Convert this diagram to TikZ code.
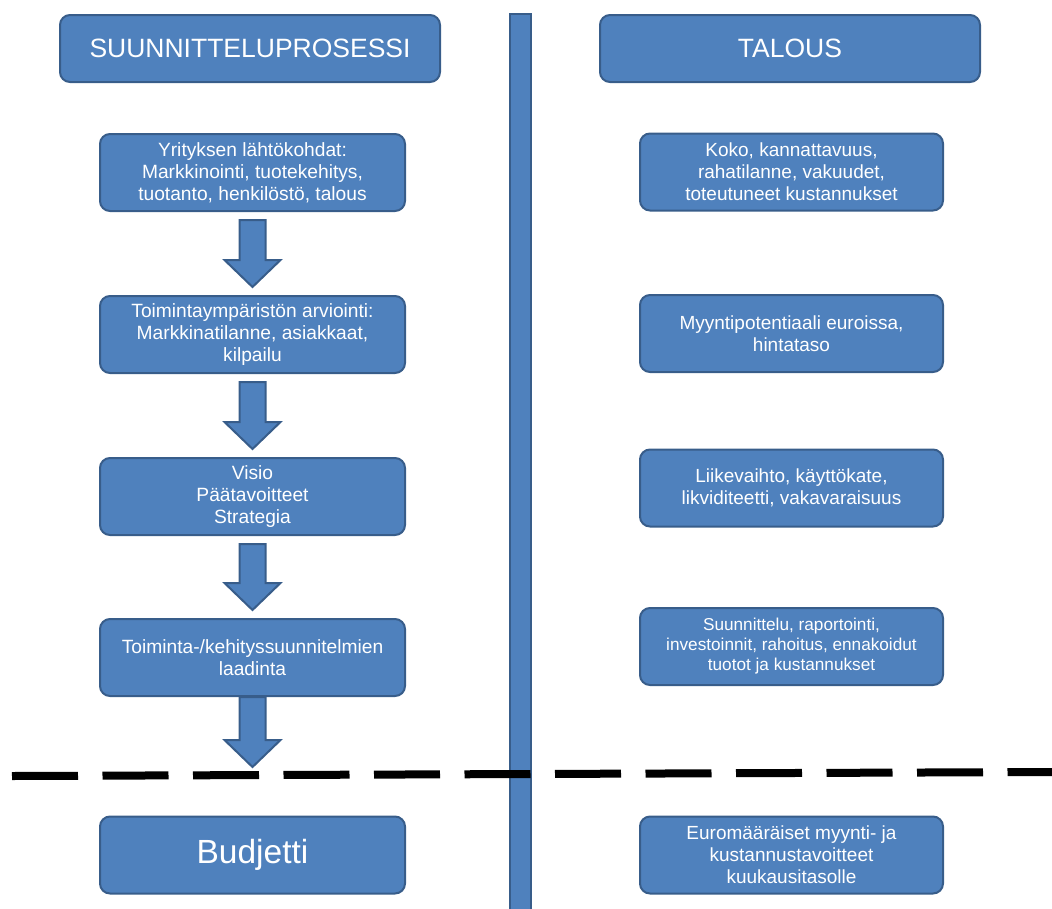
\documentclass[tikz,border=0pt]{standalone}
\usepackage{fontspec}
\setmainfont{Liberation Sans}
\usepackage{xcolor}
\usetikzlibrary{calc}

\definecolor{boxfill}{RGB}{79,129,189}
\definecolor{boxline}{RGB}{56,93,138}

% block arrow pointing down, from #2 to #3 (#1 = gap at the top)
\newcommand{\blockarrow}[3][8]{%
  \draw[arrowbox] let \p1=($(#2)+(0,#1)$), \p2=($(#3)-(0,8)$) in
    (\x1-13pt,\y1) -- (\x1+13pt,\y1) -- (\x1+13pt,\y2+27pt) -- (\x1+28pt,\y2+27pt)
    -- (\x1,\y2) -- (\x1-28pt,\y2+27pt) -- (\x1-13pt,\y2+27pt) -- cycle;}

\begin{document}
\begin{tikzpicture}[x=1pt, y=-1pt,
    box/.style={draw=boxline, fill=boxfill, line width=2pt, rounded corners=10pt,
      text=white, align=center, inner sep=2pt},
    headbox/.style={box, minimum width=380pt, minimum height=67pt,
      font=\fontsize{26.5}{31}\selectfont},
    stepbox/.style={box, minimum width=305pt, minimum height=77pt,
      font=\fontsize{19.2}{22}\selectfont},
    ecobox/.style={box, minimum width=303pt, minimum height=77pt,
      font=\fontsize{19}{22}\selectfont},
    arrowbox/.style={draw=boxline, fill=boxfill, line width=2pt, line join=miter}]
  \useasboundingbox (0,0) rectangle (1052,908);

  % Middle bar
  \filldraw[draw=boxline, fill=boxfill, line width=2pt] (510,14) rectangle (531,918);

  % Budget line
  \draw[line width=8pt, dash pattern=on 66pt off 24.5pt] (12,776) -- (1052,772);
  \coordinate (cut) at (252.5,775);

  % Headers
  \node[headbox] (hl) at (250,48.5) {SUUNNITTELUPROSESSI};
  \node[headbox] (hr) at (790,48.5) {TALOUS};

  % Planning process
  \node[stepbox] (b1) at (252.5,172.5) {Yrityksen lähtökohdat:\\Markkinointi, tuotekehitys,\\tuotanto, henkilöstö, talous};
  \node[stepbox] (b2) at (252.5,334.5) {Toimintaympäristön arviointi:\\Markkinatilanne, asiakkaat,\\kilpailu};
  \node[stepbox] (b3) at (252.5,496.5) {Visio\\Päätavoitteet\\Strategia};
  \node[stepbox] (b4) at (252.5,657.5) {Toiminta-/kehityssuunnitelmien\\laadinta};
  \node[stepbox, font=\fontsize{33.5}{38}\selectfont] (bud) at (252.5,855) {Budjetti};

  \blockarrow{b1.south}{b2.north}
  \blockarrow{b2.south}{b3.north}
  \blockarrow{b3.south}{b4.north}
  \blockarrow[0]{b4.south}{cut}

  % Economy
  \node[ecobox] (r1) at (791.5,172) {Koko, kannattavuus,\\rahatilanne, vakuudet,\\toteutuneet kustannukset};
  \node[ecobox] (r2) at (791.5,333.5) {Myyntipotentiaali euroissa,\\hintataso};
  \node[ecobox] (r3) at (791.5,488) {Liikevaihto, käyttökate,\\likviditeetti, vakavaraisuus};
  \node[ecobox, font=\fontsize{17.2}{20}\selectfont] (r4) at (791.5,646.5) {Suunnittelu, raportointi,\\investoinnit, rahoitus, ennakoidut\\tuotot ja kustannukset};
  \node[ecobox] (r5) at (791.5,855) {Euromääräiset myynti- ja\\kustannustavoitteet\\kuukausitasolle};
\end{tikzpicture}
\end{document}
